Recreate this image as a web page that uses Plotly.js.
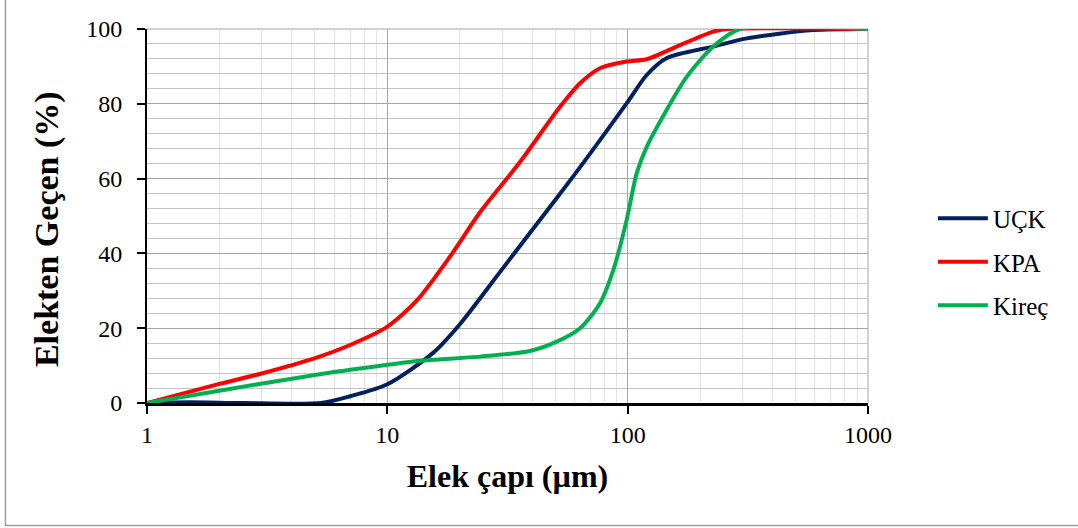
<!DOCTYPE html>
<html>
<head>
<meta charset="utf-8">
<script src="https://cdn.plot.ly/plotly-3.0.1.min.js"></script>
<style>
html,body{margin:0;padding:0;background:#fff;}
#chart{width:1078px;height:528px;}
#chart svg text{font-family:"Liberation Serif","Times New Roman",serif !important;}
</style>
</head>
<body>
<div id="chart"></div>
<script>
// Data
const seriesNames = ["UÇK", "KPA", "Kireç"];
const uckX = [1, 1.5, 2.5, 5.3, 7, 10, 15.5, 20, 29.4, 43.2, 60, 76.7, 100, 120, 145, 227, 313, 590, 1000];
const uckY = [0, 0.2, 0, 0, 1.8, 5, 13.4, 21, 35, 49, 61, 70.3, 80.5, 87.7, 92.2, 95.3, 97.5, 99.7, 100];
const kpaX = [1, 2, 3, 5, 7, 10, 13.3, 18.2, 24.3, 35.7, 52.3, 63.4, 76.7, 99, 120, 165, 227, 260, 1000];
const kpaY = [0, 5.1, 7.9, 12, 15.5, 20.4, 27.5, 39.1, 51, 64.5, 79.2, 85.5, 89.5, 91.3, 91.9, 95.7, 99.3, 100, 100];
const kirecX = [1, 2, 5, 10, 13.6, 24.3, 39.2, 50.7, 63.4, 76.7, 87.2, 99, 109, 120, 145, 176, 227, 293, 1000];
const kirecY = [0, 3.3, 7.5, 10.2, 11.3, 12.4, 13.9, 16.4, 20, 26.7, 35.6, 48.9, 61.4, 68.5, 78.3, 87.2, 95.3, 100, 100];
const xTickVals = [1, 10, 100, 1000];
const xTickText = ["1", "10", "100", "1000"];
const xTitle = "Elek çapı (µm)";
const yTitle = "Elekten Geçen (%)";

const colors = ["#002060", "#FF0000", "#00B050"];
const font = "Liberation Serif";

const xs = [uckX, kpaX, kirecX];
const ys = [uckY, kpaY, kirecY];
const traces = seriesNames.map((n, i) => ({
  x: xs[i], y: ys[i], name: n, type: "scatter", mode: "lines",
  legendgroup: "g" + i,
  line: {color: colors[i], width: 4, shape: "spline", smoothing: 0.75},
  cliponaxis: true
}));

const layout = {
  width: 1078, height: 528,
  margin: {l: 147, r: 210, t: 29, b: 125},
  paper_bgcolor: "#fff", plot_bgcolor: "#fff",
  font: {family: font, size: 24, color: "#000"},
  showlegend: true,
  legend: {x: 1.09, xanchor: "left", y: 0.377, yanchor: "middle",
           font: {family: font, size: 25, color: "#000"},
           tracegroupgap: 8, itemwidth: 50, bgcolor: "rgba(0,0,0,0)"},
  xaxis: {
    type: "log", range: [0, 3],
    tickvals: xTickVals, ticktext: xTickText,
    ticks: "outside", ticklen: 8, tickwidth: 1.5, tickcolor: "#000",
    ticklabelstandoff: 0,
    showline: true, linecolor: "#000", linewidth: 2.5,
    showgrid: true, gridcolor: "#a6a6a6", gridwidth: 1,
    minor: {dtick: "D1", showgrid: true, gridcolor: "#e2e2e2", gridwidth: 1, ticks: ""},
    zeroline: false,
    tickfont: {family: font, size: 24, color: "#000"},
    title: {text: xTitle, font: {family: font, size: 32, color: "#000", weight: "bold"}, standoff: 19}
  },
  yaxis: {
    range: [0, 100], dtick: 20, tick0: 0,
    ticks: "outside", ticklen: 8, tickwidth: 1.5, tickcolor: "#000",
    ticklabelstandoff: 10,
    showline: true, linecolor: "#000", linewidth: 2,
    showgrid: true, gridcolor: "#a6a6a6", gridwidth: 1,
    minor: {dtick: 4, showgrid: true, gridcolor: "#c4c4c4", gridwidth: 1, ticks: ""},
    zeroline: false,
    tickfont: {family: font, size: 24, color: "#000"}
  },
  annotations: [
    {xref: "paper", yref: "paper", x: -0.1387, y: 0.465, xanchor: "center", yanchor: "middle",
     textangle: -90, showarrow: false, text: yTitle,
     font: {family: font, size: 34, color: "#000", weight: "bold"}}
  ],
  shapes: [
    {type: "rect", xref: "paper", yref: "paper", x0: -0.1963, x1: 1.32, y0: -0.3275, y1: 1.12,
     line: {color: "#a0a0a0", width: 1.5}, fillcolor: "rgba(0,0,0,0)", layer: "below"},
    {type: "line", xref: "paper", yref: "paper", x0: 0, x1: 1, y0: 1, y1: 1,
     line: {color: "#a6a6a6", width: 1}, layer: "below"},
    {type: "line", xref: "paper", yref: "paper", x0: 1, x1: 1, y0: 0, y1: 1,
     line: {color: "#a6a6a6", width: 1}, layer: "below"}
  ]
};

Plotly.newPlot("chart", traces, layout, {displayModeBar: false});
</script>
</body>
</html>
